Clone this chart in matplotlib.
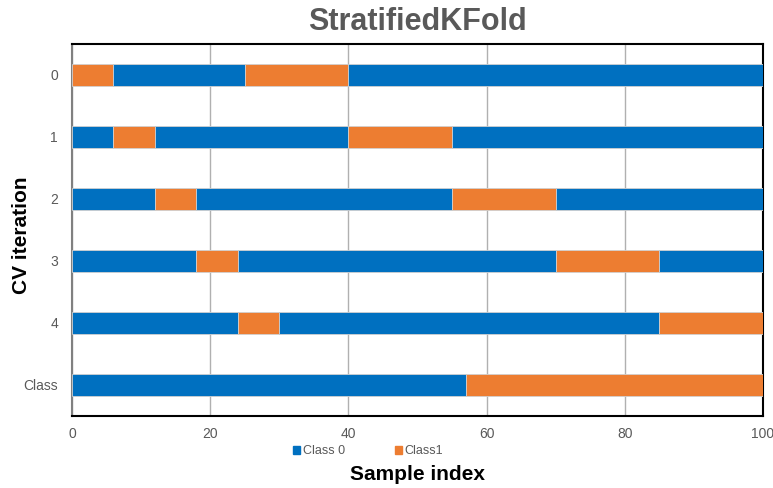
import matplotlib
matplotlib.use("Agg")
import matplotlib.pyplot as plt
from matplotlib.patches import Patch

plt.rcParams['font.family'] = ['Liberation Sans', 'DejaVu Sans']

rows = ['0', '1', '2', '3', '4', 'Class']
# segments per row: (start, end, class)
segments = {
    '0': [(0, 6, 1), (6, 25, 0), (25, 40, 1), (40, 100, 0)],
    '1': [(0, 6, 0), (6, 12, 1), (12, 40, 0), (40, 55, 1), (55, 100, 0)],
    '2': [(0, 12, 0), (12, 18, 1), (18, 55, 0), (55, 70, 1), (70, 100, 0)],
    '3': [(0, 18, 0), (18, 24, 1), (24, 70, 0), (70, 85, 1), (85, 100, 0)],
    '4': [(0, 24, 0), (24, 30, 1), (30, 85, 0), (85, 100, 1)],
    'Class': [(0, 57, 0), (57, 100, 1)],
}
legend_labels = ['Class 0', 'Class1']
colors = ['#0070C0', '#ED7D31']
xticks = [0, 20, 40, 60, 80, 100]

fig = plt.figure(figsize=(7.73, 4.88), dpi=100)
ax = fig.add_axes([72/773, 1-416/488, (763-72)/773, (416-44)/488])

for i, r in enumerate(rows):
    for s, e, c in segments[r]:
        ax.barh(i, e - s, left=s, height=0.35, color=colors[c],
                edgecolor='#d0d0d0', linewidth=0.6, zorder=3)

ax.set_ylim(len(rows) - 0.5, -0.5)
ax.set_xlim(0, 100)
ax.set_yticks(range(len(rows)))
ax.set_yticklabels(rows)
ax.set_xticks(xticks)
ax.tick_params(axis='both', length=0, labelsize=10, labelcolor='#595959')
ax.tick_params(axis='x', pad=8)
ax.tick_params(axis='y', pad=10)
ax.grid(axis='x', color='#b0b0b0', linewidth=1, zorder=0)

for side in ['top', 'right', 'bottom']:
    ax.spines[side].set_color('black')
    ax.spines[side].set_linewidth(1.5)
ax.spines['left'].set_color('#808080')
ax.spines['left'].set_linewidth(1.5)

fig.text((72+763)/2/773, 1-22/488, 'StratifiedKFold', ha='center', va='center',
         fontsize=22, fontweight='bold', color='#595959')
fig.text((72+763)/2/773, 1-475/488, 'Sample index', ha='center', va='center',
         fontsize=15, fontweight='bold', color='black')
fig.text(22/773, 1-235/488, 'CV iteration', ha='center', va='center',
         rotation=90, fontsize=15, fontweight='bold', color='black')

handles = [Patch(color=colors[0], label=legend_labels[0]),
           Patch(color=colors[1], label=legend_labels[1])]
fig.legend(handles=handles, loc='center', bbox_to_anchor=(368/773, 1-451/488),
           ncol=2, frameon=False, fontsize=9, handlelength=0.6, handleheight=0.6,
           handletextpad=0.2, columnspacing=4, labelcolor='#595959')

fig.savefig('out.png', dpi=100)
